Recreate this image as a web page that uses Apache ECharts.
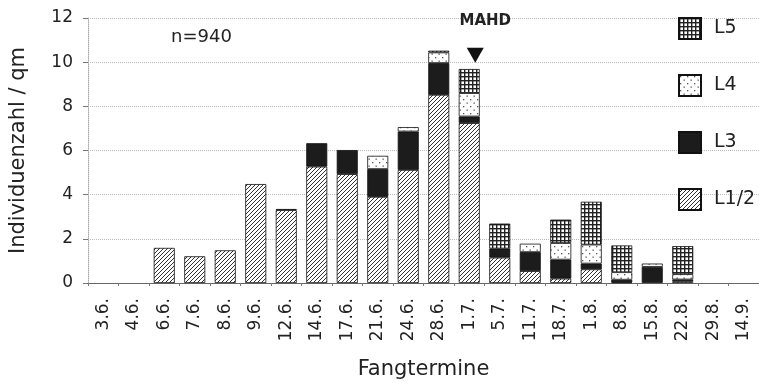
<!DOCTYPE html>
<html><head><meta charset="utf-8">
<script src="https://cdn.jsdelivr.net/npm/echarts@6/dist/echarts.min.js"></script>
<style>html,body{margin:0;padding:0;background:#fff}#c{width:759px;height:385px}</style>
</head><body><div id="c"></div>
<script>
const categories = ['3.6.','4.6.','6.6.','7.6.','8.6.','9.6.','12.6.','14.6.','17.6.','21.6.','24.6.','28.6.','1.7.','5.7.','11.7.','18.7.','1.8.','8.8.','15.8.','22.8.','29.8.','14.9.'];
const L12 = [0,0,1.59,1.21,1.48,4.48,3.30,5.27,4.93,3.90,5.12,8.52,7.24,1.15,0.54,0.20,0.62,0.03,0,0.08,0,0];
const L3  = [0,0,0,0,0,0,0.05,1.06,1.09,1.26,1.74,1.44,0.30,0.41,0.86,0.86,0.26,0.12,0.73,0.08,0,0];
const L4  = [0,0,0,0,0,0,0,0,0,0.60,0.20,0.48,1.06,0,0.38,0.75,0.86,0.34,0.15,0.24,0,0];
const L5  = [0,0,0,0,0,0,0,0,0,0,0,0.08,1.09,1.13,0,1.06,1.94,1.21,0,1.27,0,0];
const yTicks = [0,2,4,6,8,10,12];

function tile(size, draw){
  const c = document.createElement('canvas'); c.width = size; c.height = size;
  const g = c.getContext('2d'); g.fillStyle = '#fff'; g.fillRect(0,0,size,size);
  draw(g); return c;
}
const hatch = tile(4, g => {
  g.strokeStyle = '#333'; g.lineWidth = 1;
  g.beginPath();
  g.moveTo(0,4); g.lineTo(4,0);
  g.moveTo(-1,1); g.lineTo(1,-1);
  g.moveTo(3,5); g.lineTo(5,3);
  g.stroke();
});
const dots = tile(7, g => { g.fillStyle = '#555'; g.fillRect(1,1,1.3,1.3); g.fillRect(4.5,4.5,1.3,1.3); });
const grid = tile(4, g => { g.fillStyle = '#222'; g.fillRect(0,0,4,1.4); g.fillRect(0,0,1.4,4); });

const font = 'DejaVu Sans';
const chart = echarts.init(document.getElementById('c'));
function s(name, data, color){
  return {name, type:'bar', stack:'a', data: data.map(v => v === 0 ? null : v), barWidth:21,
    itemStyle:{color, borderColor:'#111', borderWidth:0.8}};
}
const series = [
  s('L1/2', L12, {image: hatch, repeat:'repeat'}),
  s('L3', L3, '#1c1c1c'),
  s('L4', L4, {image: dots, repeat:'repeat'}),
  s('L5', L5, {image: grid, repeat:'repeat'})
];
series[3].markPoint = {
  silent:true,
  data:[
    {coord:['1.7.', 10.31], symbol:'triangle', symbolRotate:180, symbolSize:[17,15], symbolOffset:[6,0],
     itemStyle:{color:'#111'}, label:{show:false}},
    {coord:['1.7.', 11.85], symbol:'rect', symbolSize:1, itemStyle:{color:'rgba(0,0,0,0)'},
     label:{show:true, position:'inside', formatter:'MAHD', offset:[16,0], color:'#222', fontSize:15, fontWeight:'bold', fontFamily:font}}
  ]
};
chart.setOption({
  animation:false,
  backgroundColor:'#fff',
  title:{text:'n=940', left:166, top:23, textStyle:{fontSize:18, fontWeight:'normal', color:'#222', fontFamily:font}},
  legend:{orient:'vertical', left:673, top:12, itemWidth:22, itemHeight:21, itemGap:34,
    data:['L5','L4','L3','L1/2'], icon:'rect',
    textStyle:{fontSize:19, color:'#222', fontFamily:font, padding:[0,0,0,8]}},
  grid:{left:88, right:0, top:18, bottom:102},
  xAxis:{type:'category', data:categories,
    name:'Fangtermine', nameLocation:'middle', nameGap:76,
    nameTextStyle:{fontSize:21, color:'#222', fontFamily:font},
    axisLine:{lineStyle:{color:'#666', width:1}},
    axisTick:{show:true, length:3, lineStyle:{color:'#777'}},
    axisLabel:{rotate:90, margin:15, fontSize:17, color:'#222', fontFamily:font}},
  yAxis:{type:'value', min:0, max:12, interval:2,
    name:'Individuenzahl / qm', nameLocation:'middle', nameGap:59,
    nameTextStyle:{fontSize:21, color:'#222', fontFamily:font},
    axisLine:{show:true, lineStyle:{color:'#aaa', type:'dotted'}},
    axisTick:{show:true, length:5, lineStyle:{color:'#777'}},
    splitLine:{lineStyle:{color:'#bbb', type:'dotted'}},
    axisLabel:{fontSize:17, color:'#222', fontFamily:font, margin:15,
      formatter: v => yTicks.includes(v) ? String(v) : ''}},
  series
});
</script></body></html>
